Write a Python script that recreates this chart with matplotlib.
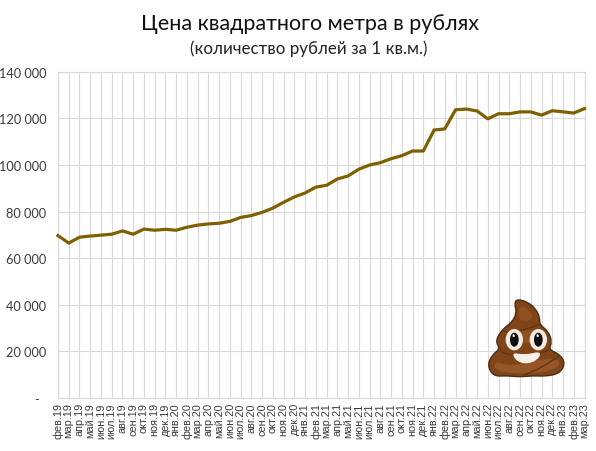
"""Цена квадратного метра в рублях: line chart with a hand-drawn emoji."""

import matplotlib

matplotlib.use("Agg")
import matplotlib.pyplot as plt
import numpy as np
from matplotlib.patches import Ellipse, PathPatch
from matplotlib.path import Path

plt.rcParams["font.family"] = ["Lato", "DejaVu Sans"]

MONTHS = ["фев.19", "мар.19", "апр.19", "май.19", "июн.19", "июл.19", "авг.19",
          "сен.19", "окт.19", "ноя.19", "дек.19", "янв.20", "фев.20", "мар.20",
          "апр.20", "май.20", "июн.20", "июл.20", "авг.20", "сен.20", "окт.20",
          "ноя.20", "дек.20", "янв.21", "фев.21", "мар.21", "апр.21", "май.21",
          "июн.21", "июл.21", "авг.21", "сен.21", "окт.21", "ноя.21", "дек.21",
          "янв.22", "фев.22", "мар.22", "апр.22", "май.22", "июн.22", "июл.22",
          "авг.22", "сен.22", "окт.22", "ноя.22", "дек.22", "янв.23", "фев.23",
          "мар.23"]
PRICE = [69700, 66500, 69000, 69500, 69900, 70300, 71700, 70300, 72500, 72000,
         72400, 72000, 73300, 74200, 74700, 75000, 75800, 77500, 78300, 79700,
         81500, 84000, 86300, 88000, 90500, 91300, 94000, 95300, 98200, 100000,
         101000, 102700, 104000, 106000, 106000, 115000, 115500, 123700, 124000,
         123200, 119800, 122000, 122000, 122800, 122800, 121400, 123300, 122800,
         122300, 124200]
Y_TICKS = [0, 20000, 40000, 60000, 80000, 100000, 120000, 140000]
Y_LABELS = ["-  ", "20 000", "40 000", "60 000", "80 000", "100 000", "120 000",
            "140 000"]
TITLE = "Цена квадратного метра в рублях"
SUBTITLE = "(количество рублей за 1 кв.м.)"

W, H = 596, 452
LINE, GRID, TEXT = "#7f6000", "#d9d9d9", "#3a3a3a"


def blob(pts):
    # closed smooth outline: quadratic segments through the edge midpoints
    pts = np.array(pts, float)
    mids = (pts + np.roll(pts, -1, axis=0)) / 2
    verts, codes = [mids[-1]], [Path.MOVETO]
    for p, m in zip(pts, mids):
        verts += [p, m]
        codes += [Path.CURVE3, Path.CURVE3]
    return Path(verts, codes)


def curve(pts):
    # open smooth stroke for the swirl lines
    pts = np.array(pts, float)
    verts, codes = [pts[0]], [Path.MOVETO]
    for p, q in zip(pts[1:-1], pts[2:]):
        verts += [p, (p + q) / 2]
        codes += [Path.CURVE3, Path.CURVE3]
    verts[-1] = pts[-1]
    return Path(verts, codes)


def draw_emoji(fig):
    # overlay axes in zoomed-crop units (3 units per pixel), y pointing down
    ex = fig.add_axes([470 / W, 1 - 380 / H, 110 / W, 90 / H])
    ex.set_xlim(0, 330)
    ex.set_ylim(270, 0)
    ex.axis("off")
    outline = [(138, 30), (172, 38), (198, 60), (210, 88), (208, 106), (236, 128),
               (246, 160), (236, 182), (270, 196), (286, 224), (268, 254), (225, 262),
               (190, 260), (150, 264), (110, 260), (70, 262), (52, 228), (68, 196),
               (90, 180), (76, 155), (98, 120), (126, 100), (140, 72), (134, 48)]
    ex.add_patch(PathPatch(blob(outline), fc="#7f4518", ec="#4f2b10", lw=1.0))
    for pts, col in [([(150, 48), (178, 62), (192, 92), (150, 98), (145, 70)], "#955420"),
                     ([(105, 135), (190, 118), (232, 150), (225, 172), (110, 150)], "#955420"),
                     ([(72, 215), (120, 232), (190, 215), (262, 205), (272, 235),
                       (200, 255), (75, 250)], "#99582a")]:
        ex.add_patch(PathPatch(blob(pts), fc=col, ec="none", alpha=.85))
    for pts in [[(100, 128), (150, 132), (207, 106)],
                [(90, 182), (105, 200), (130, 196)],
                [(212, 190), (228, 190), (236, 182)],
                [(160, 258), (215, 240), (270, 198)]]:
        ex.add_patch(PathPatch(curve(pts), fc="none", ec="#5f3513", lw=1.0))
    for cx in (133, 205):
        ex.add_patch(Ellipse((cx, 152), 52, 64, fc="#f2ebe2", ec="none"))
        ex.add_patch(Ellipse((cx, 152), 26, 42, fc="#0e0e0e", ec="none"))
        ex.add_patch(Ellipse((cx - 2, 140), 7, 8, fc="white", ec="none"))
    mouth = [(125, 190), (165, 198), (214, 186), (205, 212), (170, 226), (138, 216)]
    ex.add_patch(PathPatch(blob(mouth), fc="#f4efe8", ec="none"))


fig = plt.figure(figsize=(W / 100, H / 100), dpi=100)
ax = fig.add_axes([58 / W, 1 - 399 / H, (584.5 - 58) / W, (399 - 72.8) / H])
xs = np.arange(len(MONTHS))
ax.plot(xs, PRICE, color=LINE, lw=2.3, solid_joinstyle="round", clip_on=False, zorder=3)
ax.set_xlim(0, len(MONTHS) - 1)
ax.set_ylim(0, 140000)
ax.set_xticks(xs)
ax.set_xticklabels(MONTHS, rotation=90, fontsize=7.8, color=TEXT, family="Liberation Sans")
ax.set_yticks(Y_TICKS)
ax.set_yticklabels(Y_LABELS, fontsize=9.2, color=TEXT)
ax.tick_params(axis="x", length=0, pad=3)
ax.tick_params(axis="y", length=0, pad=8.5)
ax.grid(True, color=GRID, lw=0.8)
ax.set_axisbelow(True)
for s in ax.spines.values():
    s.set_color(GRID)
    s.set_linewidth(0.8)
fig.text(310 / W, 1 - 24 / H, TITLE, ha="center", va="center", fontsize=15.5, color="#111111")
fig.text(309 / W, 1 - 49 / H, SUBTITLE, ha="center", va="center", fontsize=12.2, color="#222222")
draw_emoji(fig)
fig.savefig("out.png", dpi=100)
